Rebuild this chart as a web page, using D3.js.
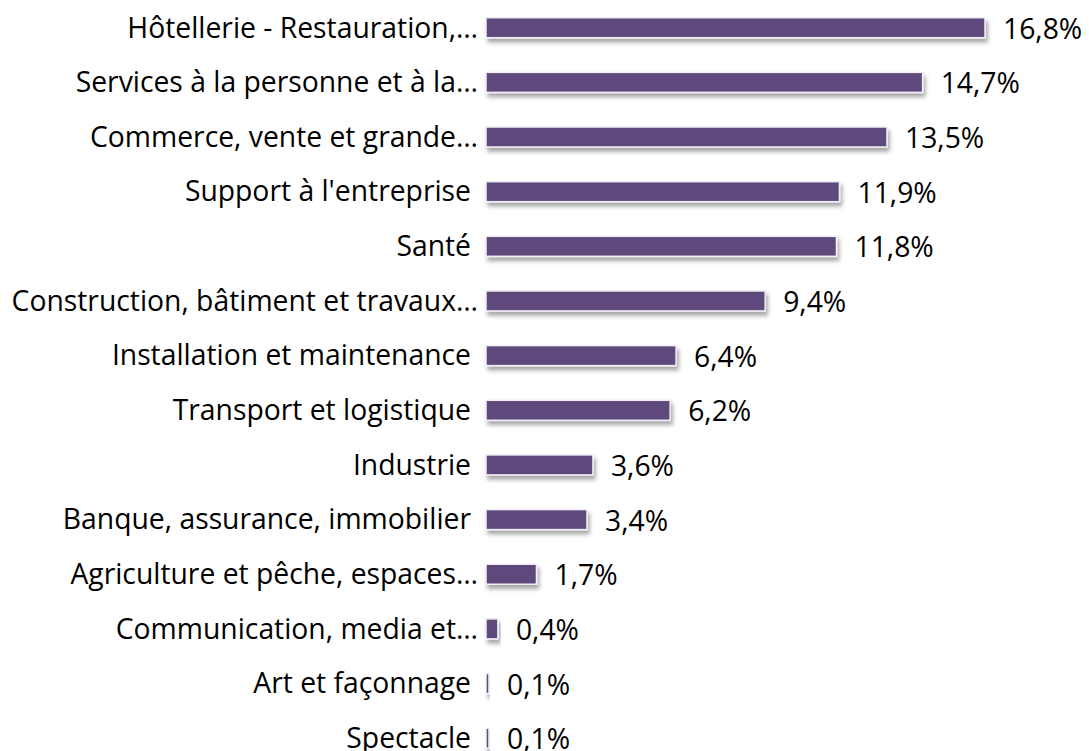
<!DOCTYPE html>
<html><head><meta charset="utf-8">
<script src="https://cdn.jsdelivr.net/npm/d3@7"></script>
<style>body{margin:0;background:#fff;} svg{display:block;}</style>
</head><body>
<svg id="chart" width="1089" height="751"></svg>
<script>
const categories = ["Hôtellerie - Restauration,…","Services à la personne et à la…","Commerce, vente et grande…","Support à l'entreprise","Santé","Construction, bâtiment et travaux…","Installation et maintenance","Transport et logistique","Industrie","Banque, assurance, immobilier","Agriculture et pêche, espaces…","Communication, media et…","Art et façonnage","Spectacle"];
const values = [16.8,14.7,13.5,11.9,11.8,9.4,6.4,6.2,3.6,3.4,1.7,0.4,0.1,0.1];
const valueLabels = ["16,8%","14,7%","13,5%","11,9%","11,8%","9,4%","6,4%","6,2%","3,6%","3,4%","1,7%","0,4%","0,1%","0,1%"];

const svg = d3.select("#chart");
const defs = svg.append("defs");
const f = defs.append("filter").attr("id","sh").attr("x","-20%").attr("y","-50%").attr("width","140%").attr("height","250%");
f.append("feDropShadow").attr("dx",2).attr("dy",4).attr("stdDeviation",2).attr("flood-color","#000").attr("flood-opacity",0.35);

const x = d3.scaleLinear().domain([0,16.8]).range([486,985]);
const y = d3.scaleBand().domain(d3.range(categories.length)).range([0,765.9]).paddingInner(0.634).paddingOuter(0.324);

const font = "'Open Sans', sans-serif";
const fs = "28.3px";
const g = svg.append("g");
g.selectAll("rect").data(values).join("rect")
  .attr("x", x(0))
  .attr("y", (d,i)=>y(i))
  .attr("width", d=>x(d)-x(0))
  .attr("height", y.bandwidth())
  .attr("fill","#5f4a7b")
  .attr("stroke","#f2eef6").attr("stroke-width",1.5)
  .attr("filter","url(#sh)");

g.selectAll("text.cat").data(categories).join("text").attr("class","cat")
  .attr("x", d=> d.endsWith("…") ? 478 : 471).attr("y",(d,i)=>y(i)+y.bandwidth()/2+9.8)
  .attr("text-anchor","end")
  .style("font-family",font).style("font-size",fs).attr("fill","#000")
  .text(d=>d);

g.selectAll("text.val").data(values).join("text").attr("class","val")
  .attr("x", d=>x(d)+18).attr("y",(d,i)=>y(i)+y.bandwidth()/2+11)
  .style("font-family",font).style("font-size",fs).attr("fill","#000")
  .text((d,i)=>valueLabels[i]);
</script>
</body></html>
